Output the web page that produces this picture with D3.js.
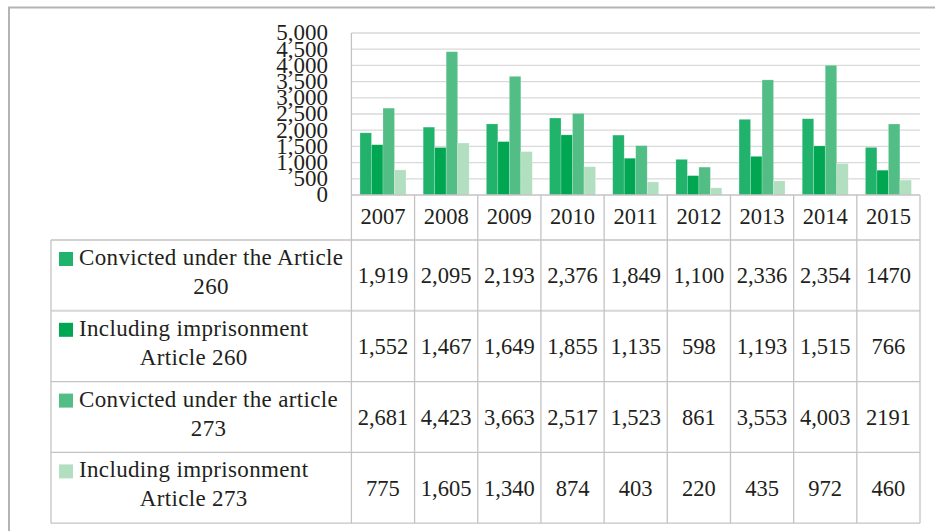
<!DOCTYPE html>
<html><head><meta charset="utf-8">
<script src="https://cdn.jsdelivr.net/npm/d3@7"></script>
<style>
html,body{margin:0;padding:0;background:#fff;}
svg text{font-family:'Liberation Serif','Tinos','Times New Roman','DejaVu Serif',serif !important;}
</style></head>
<body>
<svg id="chart" width="935" height="531"></svg>
<script>
const years = ["2007","2008","2009","2010","2011","2012","2013","2014","2015"];
const seriesNames = [
  ["Convicted under the Article","260"],
  ["Including imprisonment","Article 260"],
  ["Convicted under the article","273"],
  ["Including imprisonment","Article 273"]
];
const conv260 = [1919,2095,2193,2376,1849,1100,2336,2354,1470];
const impr260 = [1552,1467,1649,1855,1135,598,1193,1515,766];
const conv273 = [2681,4423,3663,2517,1523,861,3553,4003,2191];
const impr273 = [775,1605,1340,874,403,220,435,972,460];
const conv260Labels = ["1,919","2,095","2,193","2,376","1,849","1,100","2,336","2,354","1470"];
const impr260Labels = ["1,552","1,467","1,649","1,855","1,135","598","1,193","1,515","766"];
const conv273Labels = ["2,681","4,423","3,663","2,517","1,523","861","3,553","4,003","2191"];
const impr273Labels = ["775","1,605","1,340","874","403","220","435","972","460"];
const yTicks = [0,500,1000,1500,2000,2500,3000,3500,4000,4500,5000];
const colors = ["#21b36c","#00a651","#52bd85","#b3dfc1"];

const series = [conv260, impr260, conv273, impr273];
const labels = [conv260Labels, impr260Labels, conv273Labels, impr273Labels];

const FONT = "'Liberation Serif', serif";
const svg = d3.select("#chart").attr("font-family", FONT);
const plotLeft = 351.4, plotRight = 920, plotTop = 33, plotBase = 195;
const tableLeft = 51, headerBottom = 240, rowH = 70.8;
const gridCol = "#d9d9d9", lineCol = "#c3c3c3", textCol = "#231f20";

// outer frame
svg.append("path").attr("d","M9,531 V7.5 H935").attr("fill","none")
  .attr("stroke","#b4b4b4").attr("stroke-width",2);

const y = d3.scaleLinear().domain([0,5000]).range([plotBase, plotTop]);
const xCol = d3.scaleBand().domain(years).range([plotLeft, plotRight]);
const xGroup = d3.scaleBand().domain(years).range([plotLeft, plotRight]).paddingInner(0.272).paddingOuter(0.136);
const xBar = d3.scaleBand().domain(d3.range(series.length)).range([0, xGroup.bandwidth()]);

// gridlines
svg.append("g").selectAll("line").data(yTicks.filter(d=>d>0)).join("line")
  .attr("x1", plotLeft).attr("x2", plotRight).attr("y1", d=>y(d)).attr("y2", d=>y(d))
  .attr("stroke", gridCol).attr("stroke-width", 1.3);

// y axis labels
const yAxis = d3.axisLeft(y).tickValues(yTicks).tickFormat(d3.format(",")).tickSize(0).tickPadding(0);
const ga = svg.append("g").attr("transform", "translate(328,0)").call(yAxis);
ga.attr("font-family", FONT).attr("font-size", 23);
ga.select(".domain").remove();
ga.selectAll("text").attr("fill", textCol).attr("dy","0.3em");

// bars
series.forEach((vals, si) => {
  svg.append("g").selectAll("rect").data(vals).join("rect")
    .attr("x", (d,i) => xGroup(years[i]) + xBar(si))
    .attr("width", xBar.bandwidth())
    .attr("y", d => y(d))
    .attr("height", d => y(0) - y(d))
    .attr("fill", colors[si])
    .attr("stroke", "#ffffff").attr("stroke-opacity", 0.35).attr("stroke-width", 0.6);
});

// table lines
const rowTops = d3.range(series.length + 1).map(i => headerBottom + i * rowH);
const tableBottom = rowTops[rowTops.length - 1];
const tg = svg.append("g");
tg.append("line").attr("x1", plotLeft).attr("x2", plotRight).attr("y1", plotBase).attr("y2", plotBase)
  .attr("stroke", lineCol).attr("stroke-width", 1.3);
rowTops.forEach((ry, i) => {
  tg.append("line").attr("x1", tableLeft).attr("x2", plotRight).attr("y1", ry).attr("y2", ry)
    .attr("stroke", i === 1 ? "#d6d6d6" : lineCol).attr("stroke-width", i === 1 ? 2 : 1.3);
});
tg.append("line").attr("x1", tableLeft).attr("x2", tableLeft).attr("y1", headerBottom).attr("y2", tableBottom)
  .attr("stroke", lineCol).attr("stroke-width", 1.3);
tg.append("line").attr("x1", plotLeft).attr("x2", plotLeft).attr("y1", plotTop).attr("y2", tableBottom)
  .attr("stroke", lineCol).attr("stroke-width", 1.3);
years.forEach(yr => {
  const xr = xCol(yr) + xCol.bandwidth();
  tg.append("line").attr("x1", xr).attr("x2", xr).attr("y1", plotBase).attr("y2", tableBottom)
    .attr("stroke", lineCol).attr("stroke-width", 1.3);
});

// header year labels
svg.append("g").selectAll("text").data(years).join("text")
  .attr("x", d => xCol(d) + xCol.bandwidth()/2)
  .attr("y", 224).attr("text-anchor","middle")
  .attr("font-size", 22.5).attr("fill", textCol).text(d => d);

// value cells
labels.forEach((row, si) => {
  svg.append("g").selectAll("text").data(row).join("text")
    .attr("x", (d,i) => xCol(years[i]) + xCol.bandwidth()/2)
    .attr("y", rowTops[si] + rowH/2 + 8)
    .attr("text-anchor","middle")
    .attr("font-size", 22.5).attr("fill", textCol).text(d => d);
});

// legend cells
seriesNames.forEach((lines, si) => {
  const rt = rowTops[si];
  svg.append("rect").attr("x", 59).attr("y", rt + 12).attr("width", 14).attr("height", 14)
    .attr("fill", colors[si]);
  const t1 = svg.append("text").attr("x", 79).attr("y", rt + 25)
    .attr("font-size", 23).attr("letter-spacing", 0.35).attr("fill", textCol).text(lines[0]);
  const w = t1.node().getComputedTextLength();
  svg.append("text").attr("x", 79 + w/2).attr("y", rt + 54).attr("text-anchor","middle")
    .attr("font-size", 23).attr("letter-spacing", 0.35).attr("fill", textCol).text(lines[1]);
});
</script>
</body></html>
